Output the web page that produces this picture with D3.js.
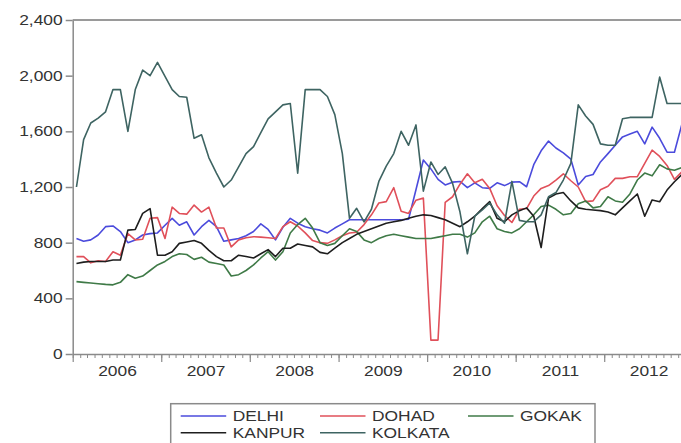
<!DOCTYPE html>
<html>
<head>
<meta charset="utf-8">
<script src="https://cdn.jsdelivr.net/npm/d3@7"></script>
<style>
  html, body { margin: 0; padding: 0; background: #fff; }
  svg { display: block; }
</style>
</head>
<body>
<svg id="chart" width="681" height="443"></svg>
<script>
// Monthly prices, January 2006 to November 2012
const seriesNames = ["DELHI", "DOHAD", "GOKAK", "KANPUR", "KOLKATA"];
const seriesColors = ["#4b4bdc", "#e0505a", "#3f7a47", "#1e1e1e", "#3e6462"];

const delhi = [
  830, 810, 820, 855, 915, 920, 880, 800, 820, 855, 865, 870,
  925, 975, 925, 950, 855, 915, 960, 915, 810, 820, 830, 850,
  880, 935, 895, 820, 910, 975, 940, 915, 900, 890, 870, 905,
  935, 965, 965, 965, 965, 965, 965, 965, 965, 968, 1180, 1394,
  1330, 1255, 1215, 1235, 1240, 1195, 1230, 1195, 1190, 1230, 1210, 1235,
  1238, 1202, 1360, 1460, 1530, 1480, 1445, 1400, 1215, 1275, 1290, 1380,
  1440, 1500, 1560, 1580, 1600, 1510, 1630, 1550, 1450, 1450, 1650
];
const dohad = [
  700, 700, 655, 670, 665, 735, 710, 865, 820, 825, 975, 980,
  830, 1055, 1010, 1005, 1070, 1020, 1055, 905, 905, 770, 820, 835,
  843, 840, 835, 830, 915, 950, 920, 870, 815, 800, 795, 820,
  850, 870, 875, 930, 1000, 1085, 1095, 1195, 1025, 1010, 1105, 1120,
  100, 100, 1090, 1130, 1220, 1295, 1230, 1255, 1190, 1065, 995, 945,
  1040, 1045, 1135, 1190, 1210, 1250, 1295, 1245, 1200, 1095, 1100, 1180,
  1205, 1262, 1262, 1274, 1274, 1370, 1465, 1420, 1355, 1255, 1310
];
const gokak = [
  520, 515, 510, 505, 500, 497, 515, 570, 545, 560, 600, 640,
  665, 700, 720, 715, 680, 695, 660, 650, 640, 560, 570, 600,
  640, 690, 735, 675, 735, 870, 930, 975, 905, 800, 780, 795,
  850, 900, 880, 820, 800, 830, 850, 860, 850, 840, 830, 830,
  830, 840, 850, 860, 860, 840, 870, 950, 990, 900, 880, 870,
  900, 950, 1000, 1060, 1070, 1040, 1000, 1010, 1080, 1100, 1050, 1060,
  1130, 1100, 1090, 1150, 1250, 1300, 1280, 1360, 1330, 1320, 1340
];
const kanpur = [
  650, 660, 665, 665, 665, 675, 675, 890, 895, 1010, 1045, 710,
  710, 735, 795, 805, 815, 795, 745, 700, 670, 670, 710, 700,
  690, 720, 750, 700, 760, 760, 790, 780, 770, 730, 720, 760,
  800, 830, 860, 880, 900, 920, 940, 950, 960, 975, 990, 1000,
  995, 980, 965, 940, 915, 950, 990, 1045, 1095, 975, 950, 1000,
  1030, 1050, 990, 765, 1120, 1150, 1160, 1100, 1050, 1040, 1035, 1030,
  1020, 1000, 1050, 1100, 1150, 990, 1107, 1094, 1178, 1238, 1290
];
const kolkata = [
  1200, 1540, 1660, 1695, 1740, 1900, 1900, 1600, 1900, 2040, 2000, 2095,
  1995, 1900, 1850, 1845, 1550, 1575, 1410, 1300, 1200, 1250, 1345, 1440,
  1490, 1590, 1690, 1740, 1790, 1800, 1300, 1900, 1900, 1900, 1850, 1720,
  1440, 975, 1047, 950, 1040, 1240, 1350, 1440, 1600, 1500, 1646, 1170,
  1380, 1290, 1345, 1226, 1020, 720, 990, 1035, 1085, 1000, 940, 1240,
  960, 950, 950, 1000, 1130, 1160, 1250, 1370, 1790, 1710, 1650, 1510,
  1500, 1500, 1690, 1700, 1700, 1700, 1700, 1990, 1800, 1800, 1800
];
const seriesValues = [delhi, dohad, gokak, kanpur, kolkata];

const yTicks = [0, 400, 800, 1200, 1600, 2000, 2400];
const yearLabels = ["2006", "2007", "2008", "2009", "2010", "2011", "2012"];

// ---- layout ----
const plotLeft = 72.7, plotRight = 693, plotTop = 20, plotBottom = 354;
const textStretch = 1.2;           // wide-set lettering
const fontSize = "14.5px";
const fontFamily = "'Liberation Sans', Arial, sans-serif";
const textColor = "#333";
const axisColor = "#8a8a8a";

const svg = d3.select("#chart");

const months = d3.timeMonth.range(new Date(2006, 0, 1), new Date(2012, 11, 1));
const x = d3.scaleTime()
  .domain([new Date(2006, 0, 1), new Date(2013, 0, 1)])
  .range([plotLeft, plotRight]);
const y = d3.scaleLinear().domain([0, 2400]).range([plotBottom, plotTop]);

// each observation sits at the middle of its month
const midX = d => (x(d) + x(d3.timeMonth.offset(d, 1))) / 2;

// frame top edge
svg.append("line")
  .attr("x1", plotLeft).attr("x2", plotRight)
  .attr("y1", plotTop).attr("y2", plotTop)
  .attr("stroke", "#9a9a9a").attr("stroke-width", 2);

// y axis
const yAxis = svg.append("g")
  .attr("transform", `translate(${plotLeft},0)`)
  .call(d3.axisLeft(y).tickValues(yTicks).tickSize(7).tickSizeOuter(0)
    .tickFormat(d3.format(",")));
yAxis.select(".domain").attr("stroke", axisColor).attr("stroke-width", 1.5);
yAxis.selectAll(".tick line").attr("stroke", axisColor).attr("stroke-width", 1.5);
yAxis.selectAll(".tick text")
  .attr("x", -10 / textStretch)
  .attr("transform", `scale(${textStretch},1)`)
  .attr("fill", textColor)
  .style("font-size", fontSize).style("font-family", fontFamily);

// x axis: monthly minor ticks
const xMinor = svg.append("g")
  .attr("transform", `translate(0,${plotBottom})`)
  .call(d3.axisBottom(x).ticks(d3.timeMonth.every(1)).tickSize(4)
    .tickSizeOuter(0).tickFormat(""));
xMinor.select(".domain").attr("stroke", axisColor).attr("stroke-width", 1.5);
xMinor.selectAll(".tick line").attr("stroke", axisColor).attr("stroke-width", 1);

// x axis: year boundary ticks
const xMajor = svg.append("g")
  .attr("transform", `translate(0,${plotBottom})`)
  .call(d3.axisBottom(x).ticks(d3.timeYear.every(1)).tickSize(8)
    .tickSizeOuter(0).tickFormat(""));
xMajor.select(".domain").remove();
xMajor.selectAll(".tick line").attr("stroke", axisColor).attr("stroke-width", 1.2);

// year labels centred within each year
const yearMid = yearLabels.map(s => {
  const a = new Date(+s, 0, 1), b = new Date(+s + 1, 0, 1);
  return new Date((a.getTime() + b.getTime()) / 2);
});
const xLab = svg.append("g")
  .attr("transform", `translate(0,${plotBottom})`)
  .call(d3.axisBottom(x).tickValues(yearMid).tickSize(0).tickPadding(12)
    .tickFormat(d3.timeFormat("%Y")));
xLab.select(".domain").remove();
xLab.selectAll(".tick text")
  .attr("transform", `scale(${textStretch},1)`)
  .attr("fill", textColor)
  .style("font-size", fontSize).style("font-family", fontFamily);

// series lines
const line = d3.line()
  .x((v, i) => midX(months[i]))
  .y(v => y(v));
svg.append("g").selectAll("path")
  .data(seriesValues)
  .join("path")
  .attr("d", d => line(d))
  .attr("fill", "none")
  .attr("stroke", (d, i) => seriesColors[i])
  .attr("stroke-width", 1.6)
  .attr("stroke-linejoin", "round");

// legend
const legend = svg.append("g");
legend.append("rect")
  .attr("x", 170.7).attr("y", 403.7)
  .attr("width", 424.3).attr("height", 60)
  .attr("fill", "#fff").attr("stroke", "#8a8a8a").attr("stroke-width", 1.5);

const legendCols = [180.7, 320, 468];
const legendRows = [416, 432.7];
seriesNames.forEach((name, i) => {
  const col = i % 3, row = Math.floor(i / 3);
  const lx = legendCols[col], ly = legendRows[row];
  legend.append("line")
    .attr("x1", lx).attr("x2", lx + 45.5)
    .attr("y1", ly).attr("y2", ly)
    .attr("stroke", seriesColors[i]).attr("stroke-width", 1.5);
  legend.append("text")
    .attr("transform", `translate(${lx + 52},${ly}) scale(${textStretch},1)`)
    .attr("dy", "0.36em")
    .attr("fill", textColor)
    .style("font-size", fontSize).style("font-family", fontFamily)
    .text(name);
});
</script>
</body>
</html>
